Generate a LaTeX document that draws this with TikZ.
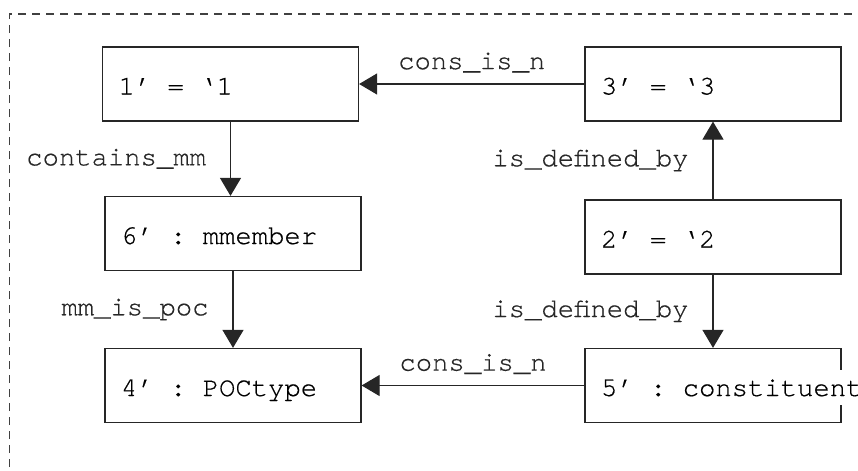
\documentclass[tikz,border=0pt]{standalone}
\usepackage{fontspec}
\setmonofont[FakeBold=0.5]{TeX Gyre Cursor}
\usetikzlibrary{arrows.meta,positioning}

\begin{document}
\begin{tikzpicture}[font=\ttfamily\fontsize{15.5}{18}\selectfont, >={Triangle[length=0.36cm,width=0.42cm]}, line width=0.7pt,
  obj/.style={draw=black!85, minimum width=5.12cm, minimum height=1.48cm, inner sep=0pt},
  objtext/.style={fill=white, anchor=base west, inner xsep=0pt, inner ysep=0.18cm},
  rel/.style={->, black!85},
  frame/.style={draw=black!75, line width=0.6pt, dash pattern=on 0.16cm off 0.12cm}]

\clip (0,0) rectangle (17.16,9.4);
\draw[frame] (0.19,-0.5) |- (17.8,9.12);

\node[obj] (b1) at (4.61,7.72) {};
\node[obj] (b6) at (4.66,4.73) {};
\node[obj] (b4) at (4.66,1.69) {};
\node[obj] (b3) at (14.26,7.72) {};
\node[obj] (b2) at (14.26,4.66) {};
\node[obj] (b5) at (14.26,1.69) {};

\node[objtext] (t1) at ([xshift=0.32cm,yshift=-0.21cm]b1.west) {1’ = ‘1};
\node[objtext] (t6) at ([xshift=0.32cm,yshift=-0.21cm]b6.west) {6’ : mmember};
\node[objtext] (t4) at ([xshift=0.32cm,yshift=-0.21cm]b4.west) {4’ : POCtype};
\node[objtext] (t3) at ([xshift=0.32cm,yshift=-0.21cm]b3.west) {3’ = ‘3};
\node[objtext] (t2) at ([xshift=0.32cm,yshift=-0.21cm]b2.west) {2’ = ‘2};
\node[objtext] (t5) at ([xshift=0.32cm,yshift=-0.21cm]b5.west) {5’ : constituent};

\draw[rel] (b1.south) -- node[left=0.36cm] (r1) {contains\_mm} (b1.south |- b6.north);
\draw[rel] (b6.south) -- node[left=0.36cm] (r2) {mm\_is\_poc} (b4.north);
\draw[rel] (b3.west) -- node[above=0.1cm] (r3) {cons\_is\_n} (b1.east);
\draw[rel] (b5.west) -- node[above=0.1cm] (r4) {cons\_is\_n} (b4.east);
\draw[rel] (b2.north) -- node[left=0.36cm] (r5) {is\_defined\_by} (b3.south);
\draw[rel] (b2.south) -- node[left=0.36cm] (r6) {is\_defined\_by} (b5.north);
\end{tikzpicture}
\end{document}
